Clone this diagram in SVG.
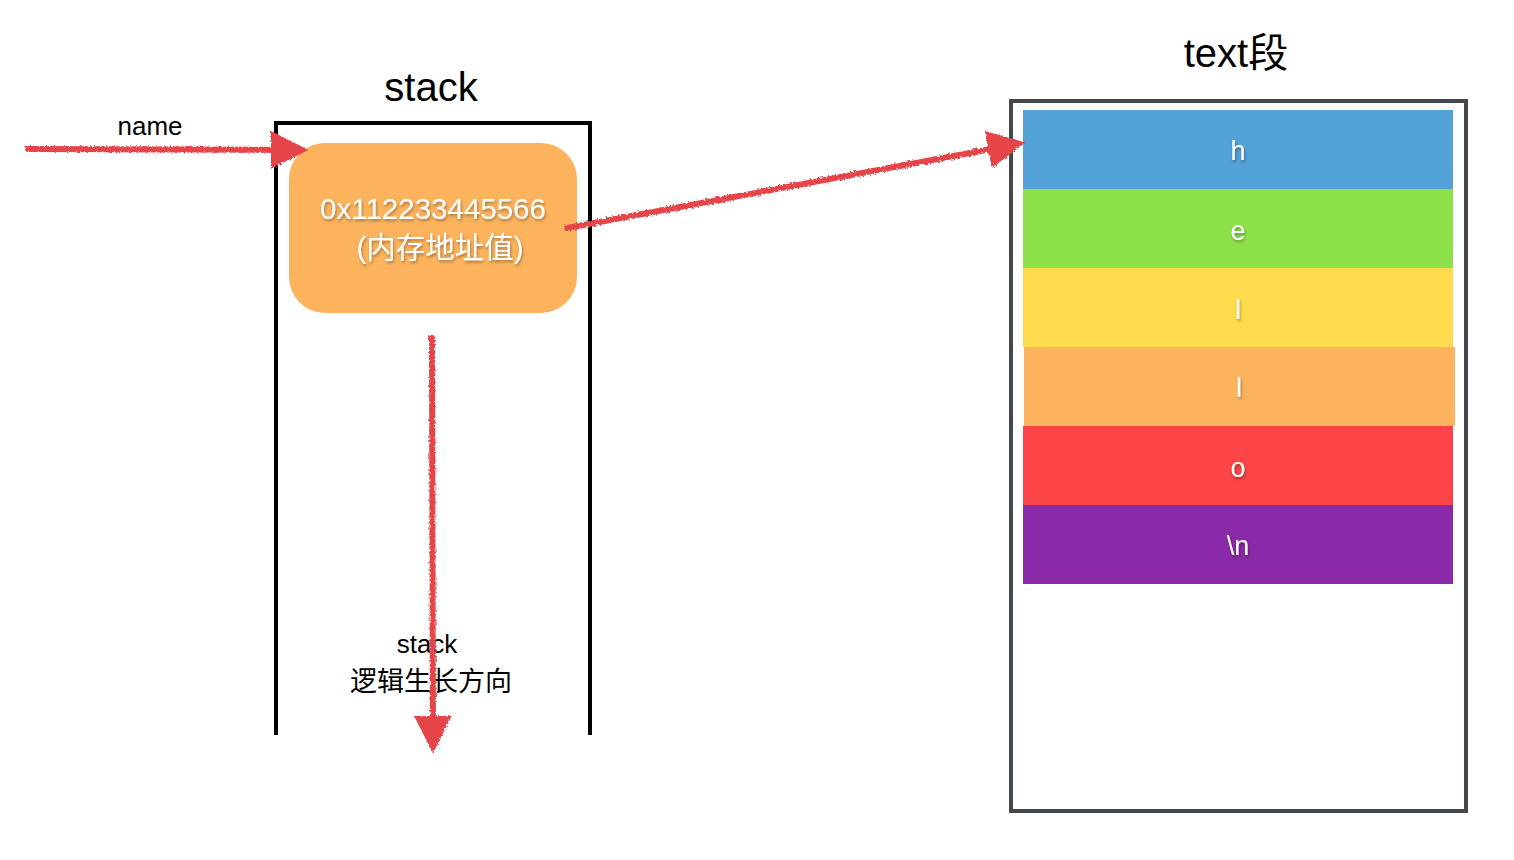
<svg xmlns="http://www.w3.org/2000/svg" width="1514" height="860" viewBox="0 0 1514 860">
<defs>
<style>
.lbl{font-family:"Liberation Sans","Noto Sans CJK SC",sans-serif;fill:#000;text-anchor:middle}
.wt{font-family:"Liberation Sans","Noto Sans CJK SC",sans-serif;fill:#fff;text-anchor:middle;font-size:27px}
.big{font-size:29.5px}
.conn{fill:none;stroke:#e5444a;stroke-width:6;stroke-linecap:round}
</style>
<filter id="rough" filterUnits="userSpaceOnUse" x="0" y="0" width="1514" height="860">
<feTurbulence type="fractalNoise" baseFrequency="0.5" numOctaves="2" result="n"/>
<feDisplacementMap in="SourceGraphic" in2="n" scale="4"/>
</filter>
<filter id="shadow" x="-20%" y="-20%" width="140%" height="140%">
<feDropShadow dx="1" dy="2" stdDeviation="1.5" flood-color="#000" flood-opacity="0.35"/>
</filter>
<marker id="ah" viewBox="0 0 10 10" refX="8" refY="5" markerWidth="6.3" markerHeight="6.3" markerUnits="strokeWidth" orient="auto">
<path d="M0,0 L10,5 L0,10 z" fill="#e5444a"/>
</marker>
</defs>
<rect width="1514" height="860" fill="#fff"/>

<g id="stack">
<text class="lbl" x="431" y="101" font-size="40">stack</text>
<path d="M276,735 V123 H590 V735" fill="none" stroke="#000" stroke-width="4"/>
</g>

<g id="addr">
<rect x="289" y="143" width="288" height="170" rx="36" fill="#fdb35d"/>
<text class="wt big" x="433" y="219" filter="url(#shadow)">0x112233445566</text>
<text class="wt big" x="440" y="258" filter="url(#shadow)">(内存地址值)</text>
</g>

<g id="growth-label">
<text class="lbl" x="427" y="653" font-size="26">stack</text>
<text class="lbl" x="431" y="691" font-size="27">逻辑生长方向</text>
</g>

<g id="name-label">
<text class="lbl" x="150" y="135" font-size="26">name</text>
</g>

<g id="textseg">
<text class="lbl" x="1236" y="67" font-size="40">text段</text>
<rect x="1011" y="101" width="455" height="710" fill="none" stroke="#43474e" stroke-width="4"/>
</g>
<g id="row-h"><rect x="1023" y="110" width="430" height="79" fill="#52a1d7"/><text class="wt" x="1238" y="160" filter="url(#shadow)">h</text></g>
<g id="row-e"><rect x="1023" y="189" width="430" height="79" fill="#8de24a"/><text class="wt" x="1238" y="240" filter="url(#shadow)">e</text></g>
<g id="row-l1"><rect x="1023" y="268" width="430" height="79" fill="#fddb4d"/><text class="wt" x="1238" y="319" filter="url(#shadow)">l</text></g>
<g id="row-l2"><rect x="1024" y="347" width="431" height="79" fill="#fdb35d"/><text class="wt" x="1239" y="397" filter="url(#shadow)">l</text></g>
<g id="row-o"><rect x="1023" y="426" width="430" height="79" fill="#fd4548"/><text class="wt" x="1238" y="477" filter="url(#shadow)">o</text></g>
<g id="row-n"><rect x="1023" y="505" width="430" height="79" fill="#8a2aa8"/><text class="wt" x="1238" y="555" filter="url(#shadow)">\n</text></g>

<g id="connectors" filter="url(#rough)">
<path class="conn" d="M28,149 L301,150" marker-end="url(#ah)"/>
<path class="conn" d="M567,228 L1018,144" marker-end="url(#ah)"/>
<path class="conn" d="M432,338 L433,746" marker-end="url(#ah)"/>
</g>
</svg>
